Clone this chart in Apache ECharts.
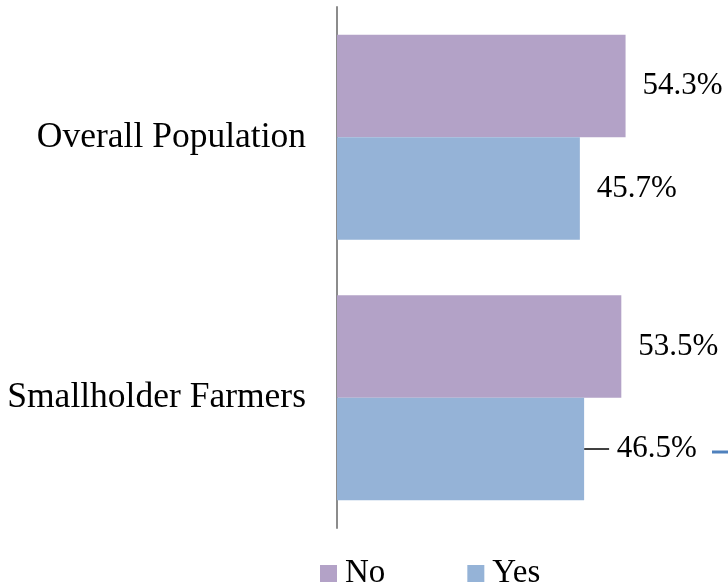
<!DOCTYPE html>
<html>
<head>
<meta charset="utf-8">
<script src="https://cdn.jsdelivr.net/npm/echarts@6/dist/echarts.min.js"></script>
<style>
html,body{margin:0;padding:0;background:#fff;}
#chart{width:728px;height:588px;}
</style>
</head>
<body>
<div id="chart"></div>
<script>
const categories = ['Overall Population', 'Smallholder Farmers'];
const noValues = [54.3, 53.5];
const yesValues = [45.7, 46.5];
const seriesNames = ['No', 'Yes'];

const FONT = '"Liberation Serif", "Times New Roman", serif';
const chart = echarts.init(document.getElementById('chart'), null, {renderer: 'canvas'});

const labelCfg = {
  show: true,
  position: 'right',
  distance: 17,
  color: '#000',
  fontFamily: FONT,
  fontSize: 31,
  formatter: p => p.value.toFixed(1) + '%'
};

const yesData = yesValues.map((v, i) => i === 1 ? {
  value: v,
  labelLine: {show: true, lineStyle: {color: '#000', width: 1.5}}
} : v);

chart.setOption({
  animation: false,
  backgroundColor: '#fff',
  textStyle: {fontFamily: FONT},
  grid: {left: 337, right: 19, top: 7, bottom: 60, containLabel: false},
  legend: {
    data: seriesNames,
    left: 315,
    top: 552,
    itemWidth: 17,
    itemHeight: 17,
    itemGap: 82,
    icon: 'rect',
    textStyle: {fontFamily: FONT, fontSize: 33, color: '#000', lineHeight: 17, padding: [8, 0, 0, 3]}
  },
  xAxis: {
    type: 'value', min: 0, max: 70,
    show: false
  },
  yAxis: {
    type: 'category',
    data: categories,
    inverse: true,
    axisLine: {show: true, lineStyle: {color: '#8c8c8c', width: 2}},
    axisTick: {show: false},
    axisLabel: {color: '#000', fontFamily: FONT, fontSize: 35.5, margin: 31}
  },
  series: [
    {
      name: 'No', type: 'bar', data: noValues,
      barGap: '0%', barCategoryGap: '21.3%',
      itemStyle: {color: '#b3a2c7'},
      label: labelCfg
    },
    {
      name: 'Yes', type: 'bar', data: yesData,
      barGap: '0%', barCategoryGap: '21.3%',
      itemStyle: {color: '#95b3d7'},
      label: Object.assign({}, labelCfg, {
        formatter: p => (p.dataIndex === 1 ? ' ' : '') + p.value.toFixed(1) + '%'
      }),
      labelLine: {show: false},
      labelLayout: p => p.dataIndex === 1 ? {dx: 8} : {}
    }
  ],
  graphic: [
    {type: 'line', shape: {x1: 712, y1: 452, x2: 728, y2: 452}, style: {stroke: '#4f81bd', lineWidth: 3}}
  ]
});
</script>
</body>
</html>
